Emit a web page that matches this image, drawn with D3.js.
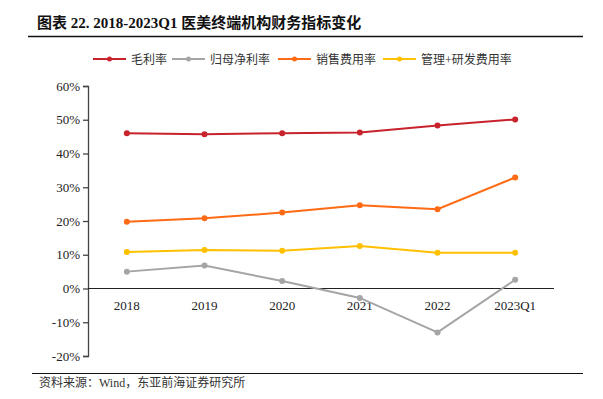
<!DOCTYPE html>
<html><head><meta charset="utf-8">
<script src="https://cdn.jsdelivr.net/npm/d3@7"></script>
<style>
body{margin:0;background:#fff;}
svg{display:block;}
</style></head>
<body>
<svg id="chart" width="603" height="399"></svg>
<script>
const categories = ["2018","2019","2020","2021","2022","2023Q1"];
const grossMargin = [46.0, 45.7, 46.0, 46.2, 48.3, 50.1];
const netMargin = [5.0, 6.8, 2.2, -2.8, -13.0, 2.6];
const salesExpense = [19.8, 20.8, 22.5, 24.7, 23.5, 32.9];
const adminRdExpense = [10.8, 11.4, 11.2, 12.6, 10.6, 10.6];
const seriesNames = ["毛利率","归母净利率","销售费用率","管理+研发费用率"];
const yTicks = [-20,-10,0,10,20,30,40,50,60];

const seriesValues = [grossMargin, netMargin, salesExpense, adminRdExpense];
const colors = ["#C8232C","#A5A5A5","#FF6B14","#FFC000"];

const svg = d3.select("#chart");
const serif = "'Liberation Serif','Times New Roman',serif";
const cjk = "'Liberation Serif','Noto Sans CJK SC',serif";

// Title
svg.append("text").attr("x",37).attr("y",28)
  .attr("font-family",cjk).attr("font-weight","bold").attr("font-size",15)
  .attr("fill","#111").text("图表 22. 2018-2023Q1 医美终端机构财务指标变化");
svg.append("line").attr("x1",28).attr("x2",583).attr("y1",36.5).attr("y2",36.5)
  .attr("stroke","#111").attr("stroke-width",1.5);

const x = d3.scaleBand().domain(categories).range([88,554]);
const y = d3.scaleLinear().domain([-20,60]).range([356,86]);

// Y axis
const yAxis = d3.axisLeft(y).tickValues(yTicks).tickSize(5).tickFormat(d=>d+"%");
const yg = svg.append("g").attr("transform","translate(88,0)").call(yAxis);
yg.select(".domain").attr("stroke","#444").attr("stroke-width",1.3);
yg.selectAll(".tick line").attr("stroke","#444").attr("stroke-width",1.3);
yg.selectAll(".tick text").attr("font-family",serif).attr("font-size",13)
  .attr("fill","#222").attr("x",-8);

// Zero line
svg.append("line").attr("x1",88).attr("x2",554).attr("y1",y(0)).attr("y2",y(0))
  .attr("stroke","#222").attr("stroke-width",1);

// X labels
svg.append("g").selectAll("text").data(categories).join("text")
  .attr("x",d=>x(d)+x.bandwidth()/2).attr("y",y(0)+21)
  .attr("text-anchor","middle").attr("font-family",serif).attr("font-size",13)
  .attr("fill","#222").text(d=>d);

// Lines
const line = d3.line().x((d,i)=>x(categories[i])+x.bandwidth()/2).y(d=>y(d));
seriesValues.forEach((vals,si)=>{
  svg.append("path").datum(vals).attr("d",line).attr("fill","none")
    .attr("stroke",colors[si]).attr("stroke-width",2);
  svg.append("g").selectAll("circle").data(vals).join("circle")
    .attr("cx",(d,i)=>x(categories[i])+x.bandwidth()/2).attr("cy",d=>y(d))
    .attr("r",3).attr("fill",colors[si]);
});

// Legend
const legendX = [93,172,278,383];
const lg = svg.append("g");
seriesNames.forEach((n,i)=>{
  const lx = legendX[i];
  lg.append("line").attr("x1",lx).attr("x2",lx+33).attr("y1",59).attr("y2",59)
    .attr("stroke",colors[i]).attr("stroke-width",2);
  lg.append("circle").attr("cx",lx+16.5).attr("cy",59).attr("r",2.5).attr("fill",colors[i]);
  lg.append("text").attr("x",lx+38).attr("y",63.5).attr("font-family",cjk)
    .attr("font-size",12).attr("fill","#333").text(n);
});

// Source
svg.append("line").attr("x1",32).attr("x2",583).attr("y1",373.5).attr("y2",373.5)
  .attr("stroke","#111").attr("stroke-width",1.2);
svg.append("text").attr("x",39).attr("y",387).attr("font-family",cjk)
  .attr("font-size",12).attr("fill","#333").text("资料来源：Wind，东亚前海证券研究所");
</script>
</body></html>
